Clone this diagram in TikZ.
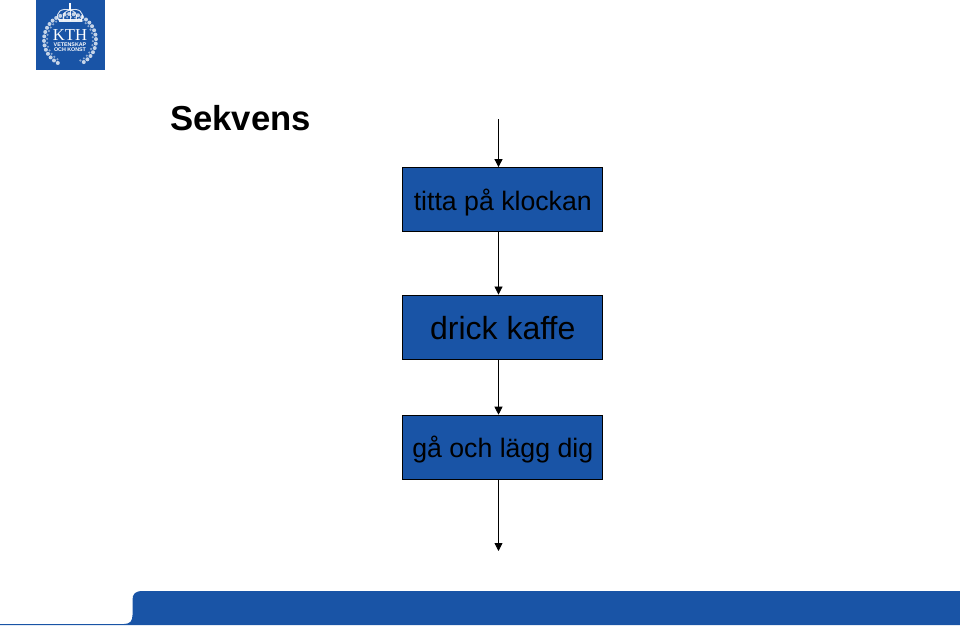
\documentclass[tikz,border=0pt]{standalone}
\usepackage{fontspec}
\setmainfont{Liberation Sans}
\newfontfamily\serifkth{Liberation Serif}
\usetikzlibrary{arrows.meta, positioning}
\definecolor{kthblue}{HTML}{1954A6}
\tikzset{
  box/.style={draw=black, fill=kthblue, line width=0.6pt, minimum width=150pt, minimum height=48pt, inner sep=0pt},
  small/.style={font=\fontsize{20}{20}\selectfont, text height=20pt},
  large/.style={font=\fontsize{24}{24}\selectfont, text height=19pt},
  arr/.style={-{Triangle[length=6pt, width=6pt]}, line width=0.6pt},
  crown/.style={draw=white, line width=0.7pt, opacity=0.85},
}

\begin{document}
\begin{tikzpicture}[x=0.75pt, y=-0.75pt]
    \useasboundingbox (0,0) rectangle (960,625);
    % logo
    \fill[kthblue] (36,0) rectangle (105,70);
    \foreach \a in {-62,-52,...,242} {
      \fill[white, opacity=0.75] (70,40) ++(\a:-26) circle (2);
      \fill[white, opacity=0.5] (70,40) ++(\a+5:-23) circle (1.2);
    }
    \draw[crown] (59,20.5) .. controls (54,11) and (63,8) .. (70,10) .. controls (77,8) and (86,11) .. (81,20.5);
    \draw[crown] (64,20.5) .. controls (62,14) and (65,11) .. (70,10) .. controls (75,11) and (78,14) .. (76,20.5);
    \draw[crown] (70,10) -- (70,20.5);
    \fill[white, opacity=0.9] (58.5,18.5) rectangle (81.5,21.5);
    \fill[white] (69.2,3) rectangle (70.8,10);
    \node[text=white, font=\serifkth\fontsize{12.5}{12.5}\selectfont] (kth) at (70,35) {KTH};
    \node[text=white, font=\bfseries\fontsize{4}{4}\selectfont, inner sep=0pt] (vetenskap) at (70,44.5) {VETENSKAP};
    \node[text=white, font=\bfseries\fontsize{4}{4}\selectfont, inner sep=0pt] (konst) at (70,50) {OCH KONST};
    % title
    \node[font=\bfseries\fontsize{26}{26}\selectfont, anchor=base west, inner sep=0pt] (title) at (170,130) {Sekvens};
    % flow
    \node[box, small] (klockan) at (502.75,199.5) {titta på klockan};
    \node[box, large, below=47pt of klockan] (kaffe) {drick kaffe};
    \node[box, small, below=41.5pt of kaffe] (dig) {gå och lägg dig};
    \coordinate (start) at (498.5,119);
    \coordinate (stop) at (498.5,551);
    \draw[arr] (start) -- (klockan.north -| start);
    \draw[arr] (klockan.south -| start) -- (kaffe.north -| start);
    \draw[arr] (kaffe.south -| start) -- (dig.north -| start);
    \draw[arr] (dig.south -| start) -- (stop);
    % footer
    \fill[kthblue] (960,591) -- (143,591) .. controls (135,591) and (132.5,594) .. (132.5,600) -- (132.5,615) .. controls (132.5,621) and (130,624) .. (124,624) -- (0,624) -- (0,625) -- (960,625) -- cycle;
\end{tikzpicture}
\end{document}
